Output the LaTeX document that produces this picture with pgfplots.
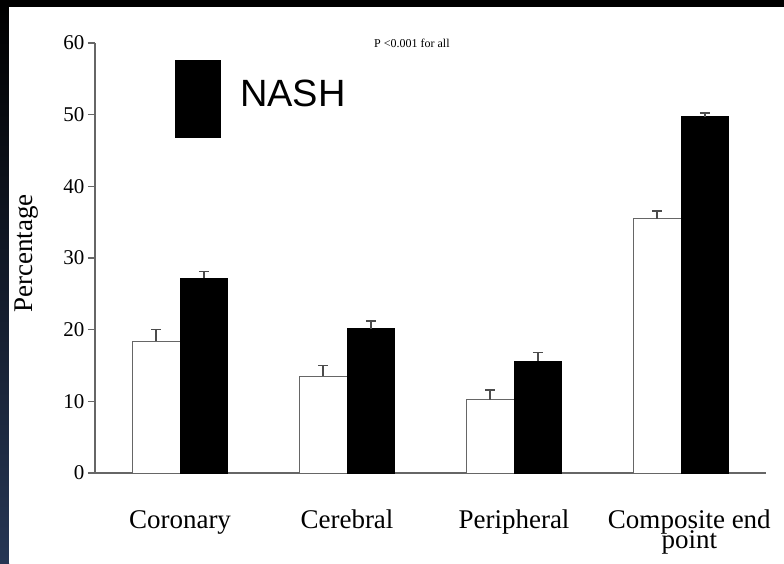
\documentclass[border=0pt]{standalone}
\usepackage{pgfplots}
\pgfplotsset{compat=1.18}
\usepackage{fontspec}
\setmainfont{Liberation Serif}
\newfontfamily\arial{Liberation Sans}
\newcommand\st{\rule{0pt}{20pt}}
\begin{document}
\begin{tikzpicture}[x=1pt,y=1pt]
\fill[black] (0,0) rectangle (784,563);
\shade[top color=black, bottom color={rgb,255:red,38;green,54;blue,84}] (0,0) rectangle (9,556);
\fill[white] (9,0) rectangle (784,556);
\begin{axis}[
  at={(95pt,90pt)}, anchor=south west,
  scale only axis, width=671pt, height=430pt,
  xmin=-0.509, xmax=3.509, ymin=0, ymax=60,
  axis x line=bottom, axis y line=left,
  axis line style={-, black!60, line width=1.1pt},
  ytick={0,10,...,60},
  tick align=outside, major tick length=7pt,
  ytick style={black!60, line width=1.1pt},
  xtick={0,1,2,3.05},
  xticklabels={\st Coronary, \st Cerebral, \st Peripheral, {\st Composite end\\[-5pt]point}},
  x tick style={draw=none},
  /pgf/number format/assume math mode=true,
  yticklabel style={font=\fontsize{21}{21}\selectfont},
  xticklabel style={font=\fontsize{27}{22}\selectfont, align=center, anchor=north, yshift=-25pt},
  ylabel={Percentage},
  ylabel style={font=\fontsize{27}{27}\selectfont, at={(axis description cs:-0.1013,0.51)}, anchor=center},
  ybar=0pt, bar width=0.287,
  clip=false,
]
\addplot[fill=white, draw=black!60, line width=1pt,
  error bars/.cd, y dir=plus, y explicit,
  error bar style={black!70, line width=1.2pt},
  error mark options={rotate=90, mark size=5pt, black!70, line width=1.6pt}]
  coordinates {(0,18.4) +- (0,1.6) (1,13.5) +- (0,1.5) (2,10.2) +- (0,1.4) (3,35.5) +- (0,1.1)};
\addplot[fill=black, draw=black, line width=1pt,
  error bars/.cd, y dir=plus, y explicit,
  error bar style={black!70, line width=1.2pt},
  error mark options={rotate=90, mark size=5pt, black!70, line width=1.6pt}]
  coordinates {(0,27.2) +- (0,0.9) (1,20.1) +- (0,1.1) (2,15.6) +- (0,1.2) (3,49.7) +- (0,0.5)};
\end{axis}
\fill[black] (175,425) rectangle (221,503);
\node[anchor=west, inner sep=0pt, font=\arial\fontsize{38}{38}\selectfont] at (240,470) {NASH};
\node[anchor=west, inner sep=0pt, font=\fontsize{12}{12}\selectfont] at (374,520) {P <0.001 for all};
\pgfresetboundingbox
\path[use as bounding box] (0,0) rectangle (784,563);
\end{tikzpicture}
\end{document}
